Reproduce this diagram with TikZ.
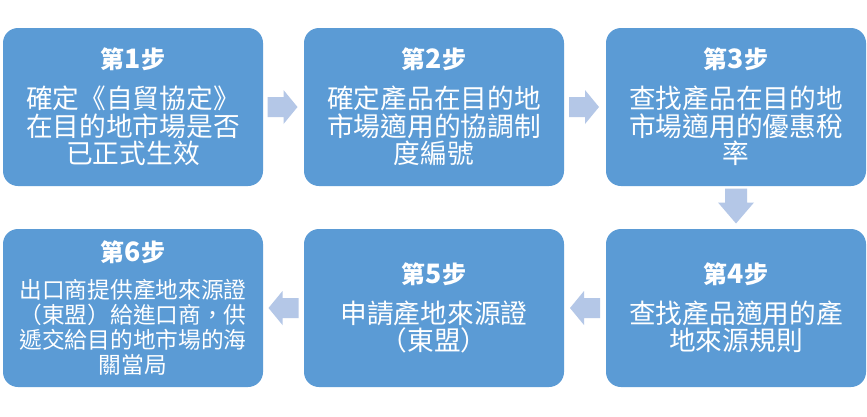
\documentclass[tikz,border=0pt]{standalone}
\usepackage{fontspec}
\setmainfont{Liberation Serif}
\newfontfamily\cjk{Noto Sans CJK TC}
\usetikzlibrary{calc}
\definecolor{boxblue}{HTML}{5B9BD5}
\definecolor{arrowblue}{HTML}{B4C7E7}
\newcommand\steptitle[1]{{\fontsize{24}{24}\selectfont\bfseries{\cjk 第}{\fontsize{26.7}{24}\selectfont#1}{\cjk 步}}}
\newcommand\rightblock[1]{\fill[arrowblue,shift={(#1)}] (-15,-10) -- (1,-10) -- (1,-17) -- (15,0) -- (1,17) -- (1,10) -- (-15,10) -- cycle;}
\newcommand\leftblock[1]{\fill[arrowblue,shift={(#1)}] (15,-10) -- (-1,-10) -- (-1,-17) -- (-15,0) -- (-1,17) -- (-1,10) -- (15,10) -- cycle;}
\newcommand\downblock[1]{\fill[arrowblue,shift={(#1)}] (-11,-17.5) -- (11,-17.5) -- (11,-3.5) -- (18,-3.5) -- (0,17.5) -- (-18,-3.5) -- (-11,-3.5) -- cycle;}
\tikzset{
  stepbox/.style={fill=boxblue, draw=none, rounded corners=15pt,
    minimum width=260pt, minimum height=158pt, text=white,
    align=center, inner sep=0pt,
    font=\cjk\fontsize{26.7}{27.7}\selectfont},
  smallbox/.style={stepbox, font=\cjk\fontsize{22.7}{24.8}\selectfont}
}
\begin{document}
\begin{tikzpicture}[x=1pt,y=-1pt]
\useasboundingbox[fill=white] (0,0) rectangle (867,416);
\node[stepbox] (s1) at (133,107) {\steptitle{1}\\[12pt]確定《自貿協定》\\在目的地市場是否\\已正式生效};
\node[stepbox] (s2) at (434,107) {\steptitle{2}\\[12pt]確定產品在目的地\\市場適用的協調制\\度編號};
\node[stepbox] (s3) at (736,107) {\steptitle{3}\\[12pt]查找產品在目的地\\市場適用的優惠稅\\率};
\node[stepbox] (s4) at (736,308) {\steptitle{4}\\[12pt]查找產品適用的產\\地來源規則};
\node[stepbox] (s5) at (434,308) {\steptitle{5}\\[12pt]申請產地來源證\\（東盟）};
\node[smallbox] (s6) at (133,308) {\steptitle{6}\\[12pt]出口商提供產地來源證\\（東盟）給進口商，供\\遞交給目的地市場的海\\關當局};
\coordinate (m12) at ($(s1.east)!0.5!(s2.west)+(-1,0)$);
\coordinate (m23) at ($(s2.east)!0.5!(s3.west)+(-1,0)$);
\coordinate (m34) at ($(s3.south)!0.5!(s4.north)+(0,-1.5)$);
\coordinate (m45) at ($(s5.east)!0.5!(s4.west)+(0,0)$);
\coordinate (m56) at ($(s6.east)!0.5!(s5.west)+(0,0)$);
\rightblock{m12}
\rightblock{m23}
\downblock{m34}
\leftblock{m45}
\leftblock{m56}
\end{tikzpicture}
\end{document}
